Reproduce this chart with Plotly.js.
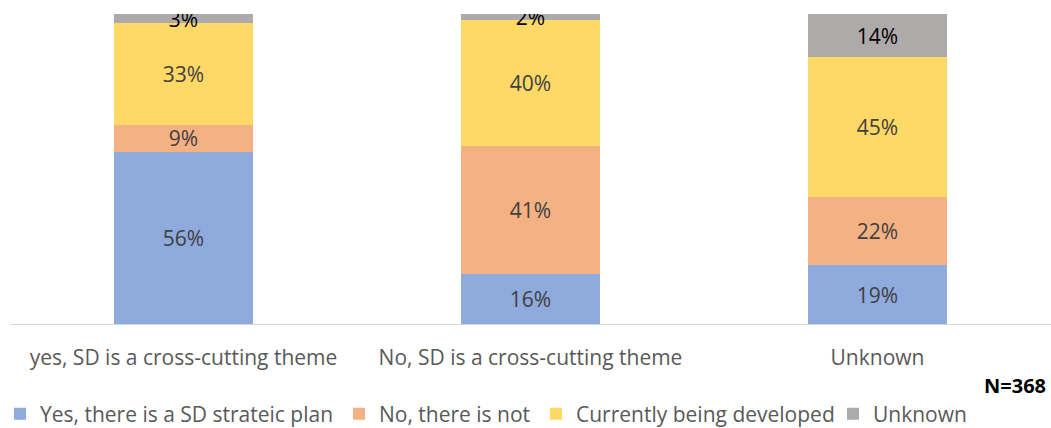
<!DOCTYPE html>
<html><head><meta charset="utf-8">
<script src="https://cdn.plot.ly/plotly-3.0.1.min.js"></script>
<style>body{margin:0;padding:0;background:#fff}#c{width:1051px;height:428px}</style>
</head><body><div id="c"></div>
<script>
const categories = ["yes, SD is a cross-cutting theme", "No, SD is a cross-cutting theme", "Unknown"];
const seriesNames = ["Yes, there is a SD strateic plan", "No, there is not", "Currently being developed", "Unknown"];
const yesPlan = [56, 16, 19];
const noPlan = [9, 41, 22];
const developing = [33, 40, 45];
const unknown = [3, 2, 14];
const colors = ["#8FAADC", "#F4B183", "#FFD966", "#AEAAAA"];
const textColors = ["#404040", "#404040", "#404040", "#000000"];
const series = [yesPlan, noPlan, developing, unknown];
const FONT = "Open Sans, sans-serif";
const legendIds = ["legend", "legend2", "legend3", "legend4"];
const legendTextStart = [40, 379, 576, 873];

const traces = series.map((vals, i) => ({
  type: "bar",
  name: seriesNames[i],
  legend: legendIds[i],
  x: categories,
  y: vals,
  text: vals.map(v => v + "%"),
  textposition: "inside",
  insidetextanchor: "middle",
  textangle: 0,
  constraintext: "none",
  texttemplate: "%{text}",
  textfont: {family: FONT, size: 21, color: textColors[i]},
  marker: {color: colors[i], line: {width: 0}},
  hoverinfo: "skip"
}));

const layout = {
  width: 1051, height: 428,
  margin: {l: 10, r: 0, t: 14, b: 104, autoexpand: false},
  barmode: "stack",
  barnorm: "percent",
  bargap: 0.6,
  paper_bgcolor: "#fff", plot_bgcolor: "#fff",
  showlegend: true,
  xaxis: {showline: true, linecolor: "#D9D9D9", linewidth: 1, ticks: "", showgrid: false,
    tickfont: {family: FONT, size: 21, color: "#595959"}, ticklabelstandoff: 15, fixedrange: true},
  yaxis: {range: [0, 100], visible: false, showgrid: false, zeroline: false, fixedrange: true},
  annotations: [{text: "<b>N=368</b>", xref: "paper", yref: "paper", x: 1, xanchor: "right", xshift: -3,
    y: -0.197, yanchor: "middle", showarrow: false, font: {family: FONT, size: 20, color: "#000"}}]
};
legendIds.forEach((id, i) => {
  layout[id] = {orientation: "h", xref: "container", yref: "container",
    x: (legendTextStart[i] - 40) / 1051, xanchor: "left", y: 1 - 414 / 428, yanchor: "middle",
    font: {family: FONT, size: 21, color: "#595959"}, bgcolor: "rgba(0,0,0,0)", borderwidth: 0};
});
Plotly.newPlot("c", traces, layout, {displayModeBar: false, staticPlot: true});
</script></body></html>
